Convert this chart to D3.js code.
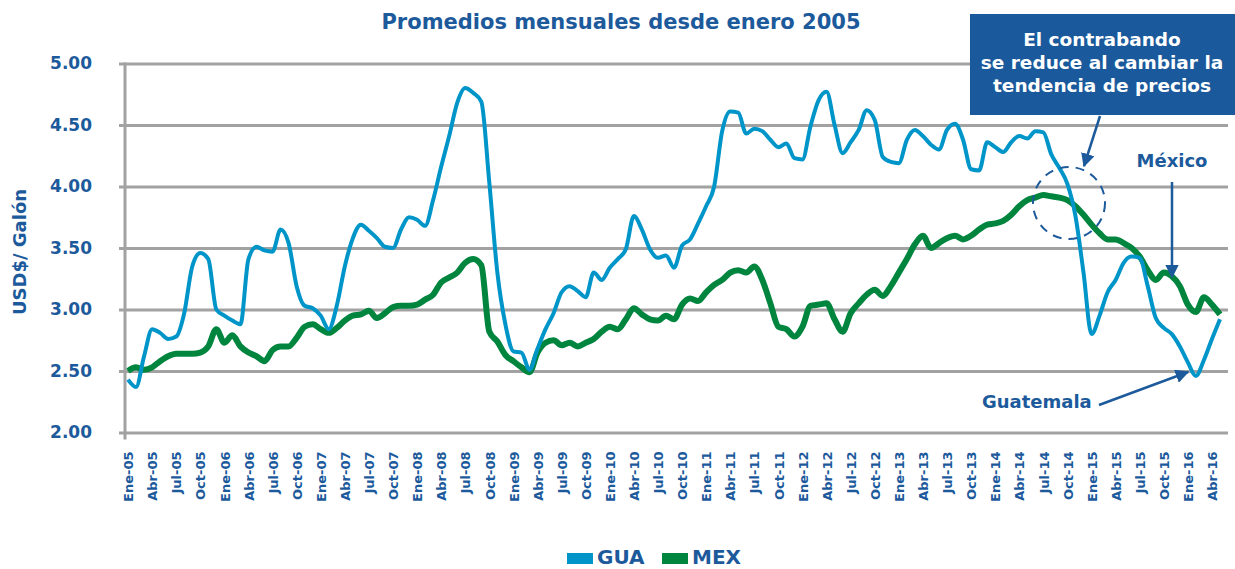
<!DOCTYPE html>
<html>
<head>
<meta charset="utf-8">
<script src="https://cdn.jsdelivr.net/npm/d3@7"></script>
<style>
  body { margin: 0; background: #fff; }
  text { font-family: "DejaVu Sans", sans-serif; font-weight: bold; }
</style>
</head>
<body>
<script>
// Etiquetas del eje X (cada 3 meses)
const tickLabels = [
  "Ene-05", "Abr-05", "Jul-05", "Oct-05", "Ene-06", "Abr-06", "Jul-06", "Oct-06",
  "Ene-07", "Abr-07", "Jul-07", "Oct-07", "Ene-08", "Abr-08", "Jul-08", "Oct-08",
  "Ene-09", "Abr-09", "Jul-09", "Oct-09", "Ene-10", "Abr-10", "Jul-10", "Oct-10",
  "Ene-11", "Abr-11", "Jul-11", "Oct-11", "Ene-12", "Abr-12", "Jul-12", "Oct-12",
  "Ene-13", "Abr-13", "Jul-13", "Oct-13", "Ene-14", "Abr-14", "Jul-14", "Oct-14",
  "Ene-15", "Abr-15", "Jul-15", "Oct-15", "Ene-16", "Abr-16",
];

const yTicks = [2, 2.5, 3, 3.5, 4, 4.5, 5];

// Precio mensual Guatemala (USD$/galón), ene-2005 a may-2016
const gua = [
  2.43, 2.37, 2.62, 2.84, 2.81, 2.76, 2.78, 2.97, 3.35, 3.46, 3.41, 3.0,
  2.95, 2.91, 2.88, 3.41, 3.51, 3.48, 3.47, 3.65, 3.54, 3.19, 3.03, 3.01,
  2.95, 2.84, 3.03, 3.35, 3.58, 3.69, 3.64, 3.58, 3.51, 3.5, 3.65, 3.75,
  3.73, 3.68, 3.89, 4.16, 4.41, 4.68, 4.8, 4.76, 4.69, 4.03, 3.3, 2.88,
  2.66, 2.65, 2.51, 2.68, 2.84, 2.97, 3.14, 3.19, 3.15, 3.1, 3.3, 3.24,
  3.34, 3.41, 3.49, 3.76, 3.65, 3.49, 3.42, 3.44, 3.34, 3.52, 3.57, 3.7,
  3.84, 4.0, 4.45, 4.61, 4.6, 4.43, 4.47, 4.45, 4.38, 4.32, 4.35, 4.23,
  4.22, 4.49, 4.7, 4.77, 4.5, 4.27, 4.36, 4.46, 4.62, 4.54, 4.24, 4.2,
  4.19, 4.38, 4.46, 4.41, 4.34, 4.3, 4.46, 4.51, 4.38, 4.14, 4.13, 4.36,
  4.32, 4.28, 4.36, 4.41, 4.39, 4.45, 4.44, 4.26, 4.15, 4.02, 3.76, 3.3,
  2.8, 2.95, 3.14, 3.24, 3.38, 3.43, 3.42, 3.19, 2.93, 2.85, 2.8, 2.7,
  2.57, 2.46, 2.59, 2.76, 2.92,
];

// Precio mensual México
const mex = [
  2.5, 2.53, 2.51, 2.53, 2.58, 2.62, 2.64, 2.64, 2.64, 2.65, 2.7, 2.84,
  2.73, 2.79, 2.7, 2.65, 2.62, 2.58, 2.67, 2.7, 2.7, 2.77, 2.86, 2.88,
  2.84, 2.81, 2.85, 2.91, 2.95, 2.96, 2.99, 2.93, 2.97, 3.02, 3.03, 3.03,
  3.04, 3.08, 3.12, 3.22, 3.26, 3.3, 3.38, 3.41, 3.36, 2.82, 2.74, 2.63,
  2.58, 2.53, 2.49, 2.65, 2.73, 2.75, 2.71, 2.73, 2.7, 2.73, 2.76, 2.82,
  2.86, 2.84, 2.92, 3.01, 2.96, 2.92, 2.91, 2.95, 2.92, 3.04, 3.09, 3.07,
  3.14, 3.2, 3.24, 3.3, 3.32, 3.3, 3.35, 3.24, 3.05, 2.86, 2.84, 2.78,
  2.86, 3.03, 3.04, 3.05, 2.92, 2.82, 2.97, 3.05, 3.12, 3.16, 3.11, 3.19,
  3.3, 3.41, 3.53, 3.6, 3.5, 3.54, 3.58, 3.6, 3.57, 3.6, 3.65, 3.69,
  3.7, 3.72, 3.77, 3.84, 3.89, 3.91, 3.93, 3.92, 3.91, 3.89, 3.84, 3.77,
  3.69, 3.62, 3.57, 3.57, 3.54, 3.5, 3.43, 3.32, 3.24, 3.3, 3.27, 3.19,
  3.04, 2.98, 3.1, 3.04, 2.96,
];

const azulTexto = "#1c5a9c";
const colorGua = "#0095c9";
const colorMex = "#00853e";
const gris = "#a2a2a2";

const width = 1235;
const height = 569;

const svg = d3.select("body").append("svg").attr("width", width).attr("height", height);

const x = d3.scaleLinear().domain([0, gua.length - 1]).range([128, 1220]);
const y = d3.scaleLinear().domain([2, 5]).range([432.5, 63.5]);

// Título
svg
  .append("text")
  .attr("x", 621)
  .attr("y", 29)
  .attr("text-anchor", "middle")
  .attr("fill", azulTexto)
  .style("font-size", "21px")
  .text("Promedios mensuales desde enero 2005");

// Eje Y con líneas de rejilla
const yAxis = d3
  .axisLeft(y)
  .tickValues(yTicks)
  .tickSize(-(1228 - 125))
  .tickPadding(33)
  .tickFormat(d3.format(".2f"));

const gy = svg.append("g").attr("transform", "translate(125,0)").call(yAxis);
gy.select(".domain").remove();
gy.selectAll(".tick line").attr("stroke", gris).attr("stroke-width", 3);
gy.selectAll(".tick")
  .append("line")
  .attr("x1", -6)
  .attr("x2", 0)
  .attr("stroke", gris)
  .attr("stroke-width", 3);
gy.selectAll(".tick text")
  .attr("fill", azulTexto)
  .style("font-size", "17px")
  .style("font-family", '"DejaVu Sans", sans-serif')
  .style("font-weight", "bold");

svg
  .append("line")
  .attr("x1", 125)
  .attr("x2", 125)
  .attr("y1", y(5) - 1)
  .attr("y2", y(2) + 7)
  .attr("stroke", gris)
  .attr("stroke-width", 3);

svg
  .append("text")
  .attr("transform", "translate(26,252) rotate(-90)")
  .attr("text-anchor", "middle")
  .attr("fill", azulTexto)
  .style("font-size", "18px")
  .text("USD$/ Galón");

// Eje X: etiquetas cada 3 meses
const xAxis = d3
  .axisBottom(x)
  .tickValues(d3.range(tickLabels.length).map((i) => i * 3))
  .tickSize(0)
  .tickFormat((d) => tickLabels[d / 3]);

const gx = svg.append("g").attr("transform", "translate(0," + y(2) + ")").call(xAxis);
gx.select(".domain").remove();
gx.selectAll(".tick text")
  .attr("transform", "translate(0,19) rotate(-90)")
  .attr("x", 0)
  .attr("y", 0)
  .attr("dy", "0.36em")
  .attr("text-anchor", "end")
  .attr("fill", azulTexto)
  .style("font-size", "13px")
  .style("font-family", '"DejaVu Sans", sans-serif')
  .style("font-weight", "bold");

// Líneas
const line = d3
  .line()
  .x((_, i) => x(i))
  .y((d) => y(d))
  .curve(d3.curveMonotoneX);

svg
  .append("path")
  .datum(mex)
  .attr("d", line)
  .attr("fill", "none")
  .attr("stroke", colorMex)
  .attr("stroke-width", 6)
  .attr("stroke-linejoin", "round");

svg
  .append("path")
  .datum(gua)
  .attr("d", line)
  .attr("fill", "none")
  .attr("stroke", colorGua)
  .attr("stroke-width", 4)
  .attr("stroke-linejoin", "round");

// Flechas
svg
  .append("defs")
  .append("marker")
  .attr("id", "flecha")
  .attr("viewBox", "0 0 10 10")
  .attr("refX", 9)
  .attr("refY", 5)
  .attr("markerWidth", 5.5)
  .attr("markerHeight", 5.5)
  .attr("orient", "auto")
  .append("path")
  .attr("d", "M0,0 L10,5 L0,10 Z")
  .attr("fill", azulTexto);

const flecha = (x1, y1, x2, y2) =>
  svg
    .append("line")
    .attr("x1", x1)
    .attr("y1", y1)
    .attr("x2", x2)
    .attr("y2", y2)
    .attr("stroke", azulTexto)
    .attr("stroke-width", 2.5)
    .attr("marker-end", "url(#flecha)");

// Recuadro del comentario
svg.append("rect").attr("x", 970).attr("y", 14).attr("width", 270).attr("height", 101).attr("fill", "#1a5a9c");

svg
  .selectAll(".nota")
  .data(["El contrabando", "se reduce al cambiar la", "tendencia de precios"])
  .enter()
  .append("text")
  .attr("class", "nota")
  .attr("x", 1102)
  .attr("y", (_, i) => 46 + i * 23)
  .attr("text-anchor", "middle")
  .attr("fill", "#fff")
  .style("font-size", "18.5px")
  .text((d) => d);

flecha(1100, 116, 1084, 166);

svg
  .append("circle")
  .attr("cx", 1069)
  .attr("cy", 203)
  .attr("r", 36)
  .attr("fill", "none")
  .attr("stroke", azulTexto)
  .attr("stroke-width", 2)
  .attr("stroke-dasharray", "9,7");

svg
  .append("text")
  .attr("x", 1172)
  .attr("y", 167)
  .attr("text-anchor", "middle")
  .attr("fill", azulTexto)
  .style("font-size", "18px")
  .text("México");

flecha(1172, 182, 1172, 277);

svg
  .append("text")
  .attr("x", 982)
  .attr("y", 408)
  .attr("fill", azulTexto)
  .style("font-size", "18px")
  .text("Guatemala");

flecha(1099, 405, 1188, 372);

// Leyenda
const leyenda = [
  { name: "GUA", color: colorGua, x: 567 },
  { name: "MEX", color: colorMex, x: 662 },
];

const gl = svg.selectAll(".leyenda").data(leyenda).enter().append("g").attr("class", "leyenda");
gl.append("rect")
  .attr("x", (d) => d.x)
  .attr("y", 553)
  .attr("width", 26)
  .attr("height", 11)
  .attr("fill", (d) => d.color);
gl.append("text")
  .attr("x", (d) => d.x + 30)
  .attr("y", 564)
  .attr("fill", azulTexto)
  .style("font-size", "20px")
  .text((d) => d.name);
</script>
</body>
</html>
